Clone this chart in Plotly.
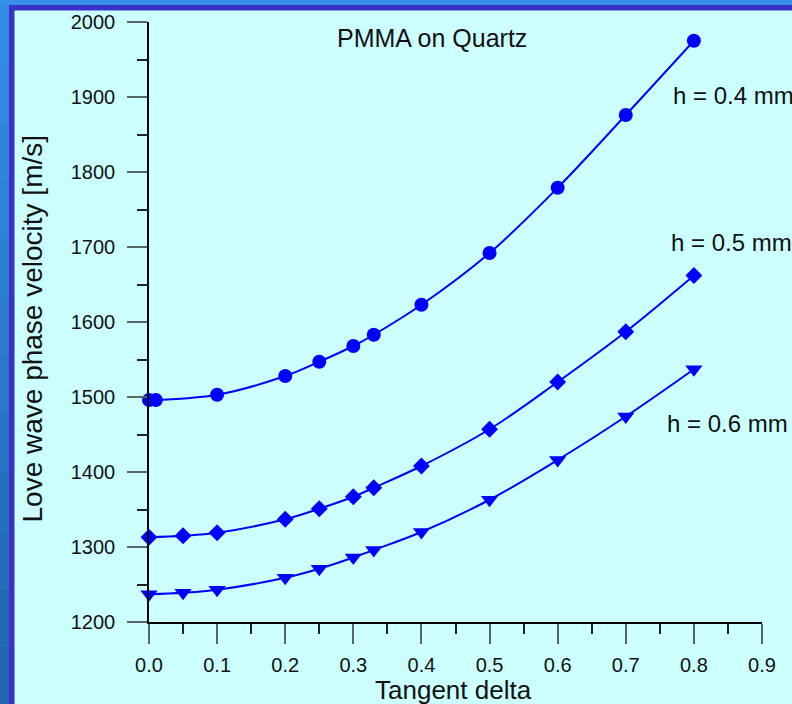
import plotly.graph_objects as go

# ---- data ----
tan_delta_04 = [0.0, 0.01, 0.1, 0.2, 0.25, 0.3, 0.33, 0.4, 0.5, 0.6, 0.7, 0.8]
velocity_04 = [1496, 1496, 1503, 1528, 1547, 1568, 1583, 1623, 1692, 1779, 1876, 1975]

tan_delta_05 = [0.0, 0.05, 0.1, 0.2, 0.25, 0.3, 0.33, 0.4, 0.5, 0.6, 0.7, 0.8]
velocity_05 = [1313, 1315, 1319, 1337, 1351, 1367, 1379, 1408, 1457, 1520, 1587, 1662]

tan_delta_06 = [0.0, 0.05, 0.1, 0.2, 0.25, 0.3, 0.33, 0.4, 0.5, 0.6, 0.7, 0.8]
velocity_06 = [1237, 1239, 1243, 1259, 1271, 1286, 1296, 1320, 1363, 1416, 1474, 1537]

x_ticks = [0.0, 0.1, 0.2, 0.3, 0.4, 0.5, 0.6, 0.7, 0.8, 0.9]
y_ticks = [1200, 1300, 1400, 1500, 1600, 1700, 1800, 1900, 2000]

series_labels = ["h = 0.4 mm", "h = 0.5 mm", "h = 0.6 mm"]
chart_title = "PMMA on Quartz"
x_title = "Tangent delta"
y_title = "Love wave phase velocity [m/s]"

# ---- layout geometry (pixels) ----
W, H = 792, 704
ML, MR, MT, MB = 149, 30, 22, 82
PW, PH = W - ML - MR, H - MT - MB


def px(x):
    return (x - ML) / PW


def py(y):
    return (H - MB - y) / PH


FONT = "Arial, Liberation Sans, sans-serif"
BLUE = "#0000ff"

fig = go.Figure()

marker_syms = ["circle", "diamond", "triangle-down"]
marker_sizes = [14, 13, 15]
for xs, ys, sym, sz in zip(
    [tan_delta_04, tan_delta_05, tan_delta_06],
    [velocity_04, velocity_05, velocity_06],
    marker_syms,
    marker_sizes,
):
    fig.add_trace(
        go.Scatter(
            x=xs,
            y=ys,
            mode="lines+markers",
            line=dict(color=BLUE, width=2, shape="spline", smoothing=1.0),
            marker=dict(symbol=sym, size=sz, color=BLUE, line=dict(width=0)),
            cliponaxis=False,
            showlegend=False,
        )
    )

# ---- background frame ----
shapes = [
    dict(type="rect", xref="paper", yref="paper", x0=px(0), x1=px(W), y0=py(H), y1=py(0),
         fillcolor="#3590e8", line=dict(width=0), layer="below"),
]
# left strip with vertical gradient
n = 12
for i in range(n):
    t = i / (n - 1)
    r = int(0x33 + (0x20 - 0x33) * t)
    g = int(0x8c + (0x66 - 0x8c) * t)
    b = int(0xe6 + (0xb0 - 0xe6) * t)
    y0 = 5 + (H - 5) * i / n
    y1 = 5 + (H - 5) * (i + 1) / n
    shapes.append(dict(type="rect", xref="paper", yref="paper", x0=px(0), x1=px(9.5),
                       y0=py(y1), y1=py(y0), fillcolor=f"rgb({r},{g},{b})",
                       line=dict(width=0), layer="below"))
shapes += [
    dict(type="rect", xref="paper", yref="paper", x0=px(9), x1=px(W), y0=py(H), y1=py(5),
         fillcolor="#3832c8", line=dict(width=0), layer="below"),
    dict(type="rect", xref="paper", yref="paper", x0=px(14.5), x1=px(W), y0=py(H), y1=py(10.5),
         fillcolor="#ccffff", line=dict(width=0), layer="below"),
]

annotations = [
    dict(text=chart_title, x=px(431.5), y=py(38), xref="paper", yref="paper",
         xanchor="center", yanchor="middle", showarrow=False,
         font=dict(family=FONT, size=25, color="#111111")),
    dict(text=series_labels[0], x=px(671), y=py(95), xref="paper", yref="paper",
         xanchor="left", yanchor="middle", showarrow=False,
         font=dict(family=FONT, size=24, color="#111111")),
    dict(text=series_labels[1], x=px(669), y=py(242), xref="paper", yref="paper",
         xanchor="left", yanchor="middle", showarrow=False,
         font=dict(family=FONT, size=24, color="#111111")),
    dict(text=series_labels[2], x=px(665), y=py(424), xref="paper", yref="paper",
         xanchor="left", yanchor="middle", showarrow=False,
         font=dict(family=FONT, size=24, color="#111111")),
    dict(text=x_title, x=px(453.5), y=py(690), xref="paper", yref="paper",
         xanchor="center", yanchor="middle", showarrow=False,
         font=dict(family=FONT, size=26, color="#111111")),
    dict(text=y_title, x=px(32), y=py(328.5), xref="paper", yref="paper",
         xanchor="center", yanchor="middle", showarrow=False, textangle=-90,
         font=dict(family=FONT, size=28, color="#111111")),
]

fig.update_layout(
    width=W,
    height=H,
    margin=dict(l=ML, r=MR, t=MT, b=MB, pad=0),
    paper_bgcolor="#ccffff",
    plot_bgcolor="rgba(0,0,0,0)",
    shapes=shapes,
    annotations=annotations,
    showlegend=False,
    font=dict(family=FONT, color="#111111"),
)

fig.update_xaxes(
    range=[0, 0.9],
    tickvals=x_ticks,
    ticktext=[f"{v:.1f}" for v in x_ticks],
    showgrid=False,
    zeroline=False,
    showline=True,
    linecolor="black",
    linewidth=1.5,
    ticks="outside",
    ticklen=20,
    tickwidth=1.5,
    tickcolor="#556666",
    tickfont=dict(family=FONT, size=20, color="#111111"),
    ticklabelstandoff=4,
    minor=dict(ticks="outside", ticklen=10, tickwidth=1.5, tickcolor="#222222", dtick=0.05, showgrid=False),
)
fig.update_yaxes(
    range=[1200, 2000],
    tickvals=y_ticks,
    ticktext=[str(v) for v in y_ticks],
    showgrid=False,
    zeroline=False,
    showline=True,
    linecolor="black",
    linewidth=1.5,
    ticks="outside",
    ticklen=20,
    tickwidth=1.5,
    tickcolor="#556666",
    tickfont=dict(family=FONT, size=20, color="#111111"),
    ticklabelstandoff=8,
    minor=dict(ticks="outside", ticklen=10, tickwidth=1.5, tickcolor="#222222", dtick=50, showgrid=False),
)

fig.write_html("out.html")
